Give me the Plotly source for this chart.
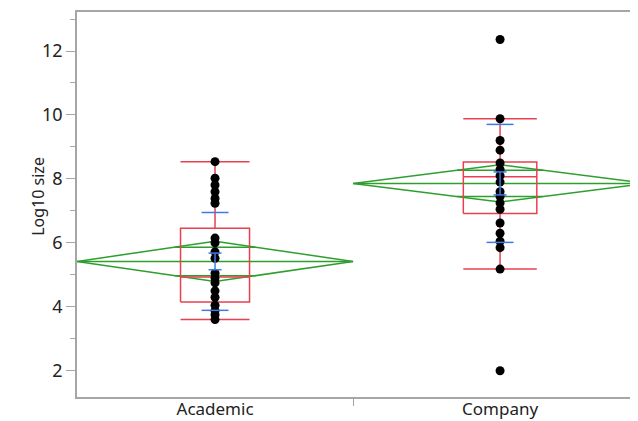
import numpy as np
import plotly.graph_objects as go

# ---------------- data ----------------
groups = ["Academic", "Company"]
academic_values = [8.54, 8.02, 7.81, 7.60, 7.39, 7.24, 6.15, 6.00, 5.72, 5.52,
                   5.05, 4.90, 4.75, 4.50, 4.30, 4.05, 3.88, 3.75, 3.60]
company_values = [12.36, 9.88, 9.20, 8.90, 8.50, 8.30, 8.10, 7.90, 7.60, 7.45,
                  7.25, 7.05, 6.62, 6.30, 6.05, 5.85, 5.18, 2.00]
means = [5.42, 7.86]
ci_half = [0.63, 0.58]          # 95% CI half-height of the means diamonds
medians = [4.93, 8.07]
q1 = [4.15, 6.92]
q3 = [6.46, 8.53]
whisker_low = [3.60, 5.18]
whisker_high = [8.54, 9.88]
std_devs = [1.53, 1.845]
std_errs = [0.26, 0.36]
group_weights = [0.939, 1.0]    # proportional x widths of the groups
y_major = [2, 4, 6, 8, 10, 12]
y_minor = [3, 5, 7, 9, 11, 13]
y_title = "Log10 size"

# ---------------- styling / geometry ----------------
PAGE_OFFSET = 8                 # browser default body margin
W, H = 638 - PAGE_OFFSET, 421 - PAGE_OFFSET
M_L, M_R, M_T, M_B = 77 - PAGE_OFFSET, 0, 12 - PAGE_OFFSET, 24
RED = "#e8404f"
GREEN = "#2f9e2f"
BLUE = "#3d7ae6"
AXIS = "#a6a6a6"
FONT = "Noto Sans"
px_per_unit = 294.0                       # pixels per x unit
x_max = (W - M_L - M_R) / px_per_unit
BOX_FRAC = 0.125                          # box half-width as fraction of group width
SD_HALF = 13.5 / px_per_unit
SE_HALF = 6.5 / px_per_unit

values = [academic_values, company_values]
edges = np.concatenate([[0], np.cumsum(group_weights)])
lefts = edges[:-1]
rights = edges[1:]
centers = (lefts + rights) / 2

fig = go.Figure()

def seg_trace(xs, ys, color, width=1.5):
    fig.add_trace(go.Scatter(x=xs, y=ys, mode="lines",
                             line=dict(color=color, width=width),
                             hoverinfo="skip", showlegend=False))

# means diamonds (green)
gx, gy = [], []
for i in range(len(groups)):
    l, r, c, m, h = lefts[i], rights[i], centers[i], means[i], ci_half[i]
    gx += [l, c, r, c, l, None]
    gy += [m, m + h, m, m - h, m, None]
    gx += [l, r, None]
    gy += [m, m, None]
    ov = h / np.sqrt(2)
    hw = (r - l) / 2 * (1 - 1 / np.sqrt(2))
    for s in (1, -1):
        gx += [c - hw, c + hw, None]
        gy += [m + s * ov, m + s * ov, None]
seg_trace(gx, gy, GREEN)

# box plots (red)
rx, ry = [], []
for i in range(len(groups)):
    c = centers[i]
    bw = group_weights[i] * BOX_FRAC
    rx += [c - bw, c + bw, c + bw, c - bw, c - bw, None]
    ry += [q1[i], q1[i], q3[i], q3[i], q1[i], None]
    rx += [c - bw, c + bw, None]
    ry += [medians[i], medians[i], None]
    rx += [c, c, None, c, c, None]
    ry += [q3[i], whisker_high[i], None, q1[i], whisker_low[i], None]
    rx += [c - bw, c + bw, None, c - bw, c + bw, None]
    ry += [whisker_high[i], whisker_high[i], None, whisker_low[i], whisker_low[i], None]
seg_trace(rx, ry, RED)

# points
for i in range(len(groups)):
    fig.add_trace(go.Scatter(x=[centers[i]] * len(values[i]), y=values[i],
                             mode="markers",
                             marker=dict(color="black", size=9, line=dict(width=0)),
                             hoverinfo="skip", showlegend=False))

# std dev lines and mean error bars (blue)
bx, by = [], []
for i in range(len(groups)):
    c, m = centers[i], means[i]
    for s in (1, -1):
        y = m + s * std_devs[i]
        bx += [c - SD_HALF, c + SD_HALF, None]
        by += [y, y, None]
        y = m + s * std_errs[i]
        bx += [c - SE_HALF, c + SE_HALF, None]
        by += [y, y, None]
    bx += [c, c, None]
    by += [m - std_errs[i], m + std_errs[i], None]
seg_trace(bx, by, BLUE)

fig.update_layout(
    width=W, height=H,
    margin=dict(l=M_L, r=M_R, t=M_T, b=M_B, pad=0),
    plot_bgcolor="white", paper_bgcolor="white",
    font=dict(family=FONT, size=17, color="#222222"),
    showlegend=False,
    annotations=[dict(text=y_title, textangle=-90, showarrow=False,
                      xref="paper", yref="paper", x=0, y=0.52,
                      xanchor="center", yanchor="middle", xshift=-39,
                      font=dict(size=16, color="#222222"))],
)
fig.update_xaxes(
    range=[0, x_max], showgrid=False, zeroline=False,
    showline=True, linecolor=AXIS, linewidth=1.5, mirror=True,
    tickmode="array", tickvals=list(centers), ticktext=groups,
    ticks="", ticklen=0, ticklabelstandoff=-4,
    tickfont=dict(size=17),
    minor=dict(tickmode="array", tickvals=[edges[1]], ticks="outside",
               ticklen=7, tickcolor=AXIS, tickwidth=1.2),
    automargin=False,
)
fig.update_yaxes(
    range=[1.18, 13.22], showgrid=False, zeroline=False,
    showline=True, linecolor=AXIS, linewidth=1.5,
    tickmode="array", tickvals=y_major, ticks="outside", ticklen=9,
    tickcolor=AXIS, tickwidth=1.2, tickfont=dict(size=18),
    minor=dict(tickmode="array", tickvals=y_minor, ticks="outside",
               ticklen=5, tickcolor=AXIS, tickwidth=1.2),
    automargin=False,
)

fig.write_html("out.html")
